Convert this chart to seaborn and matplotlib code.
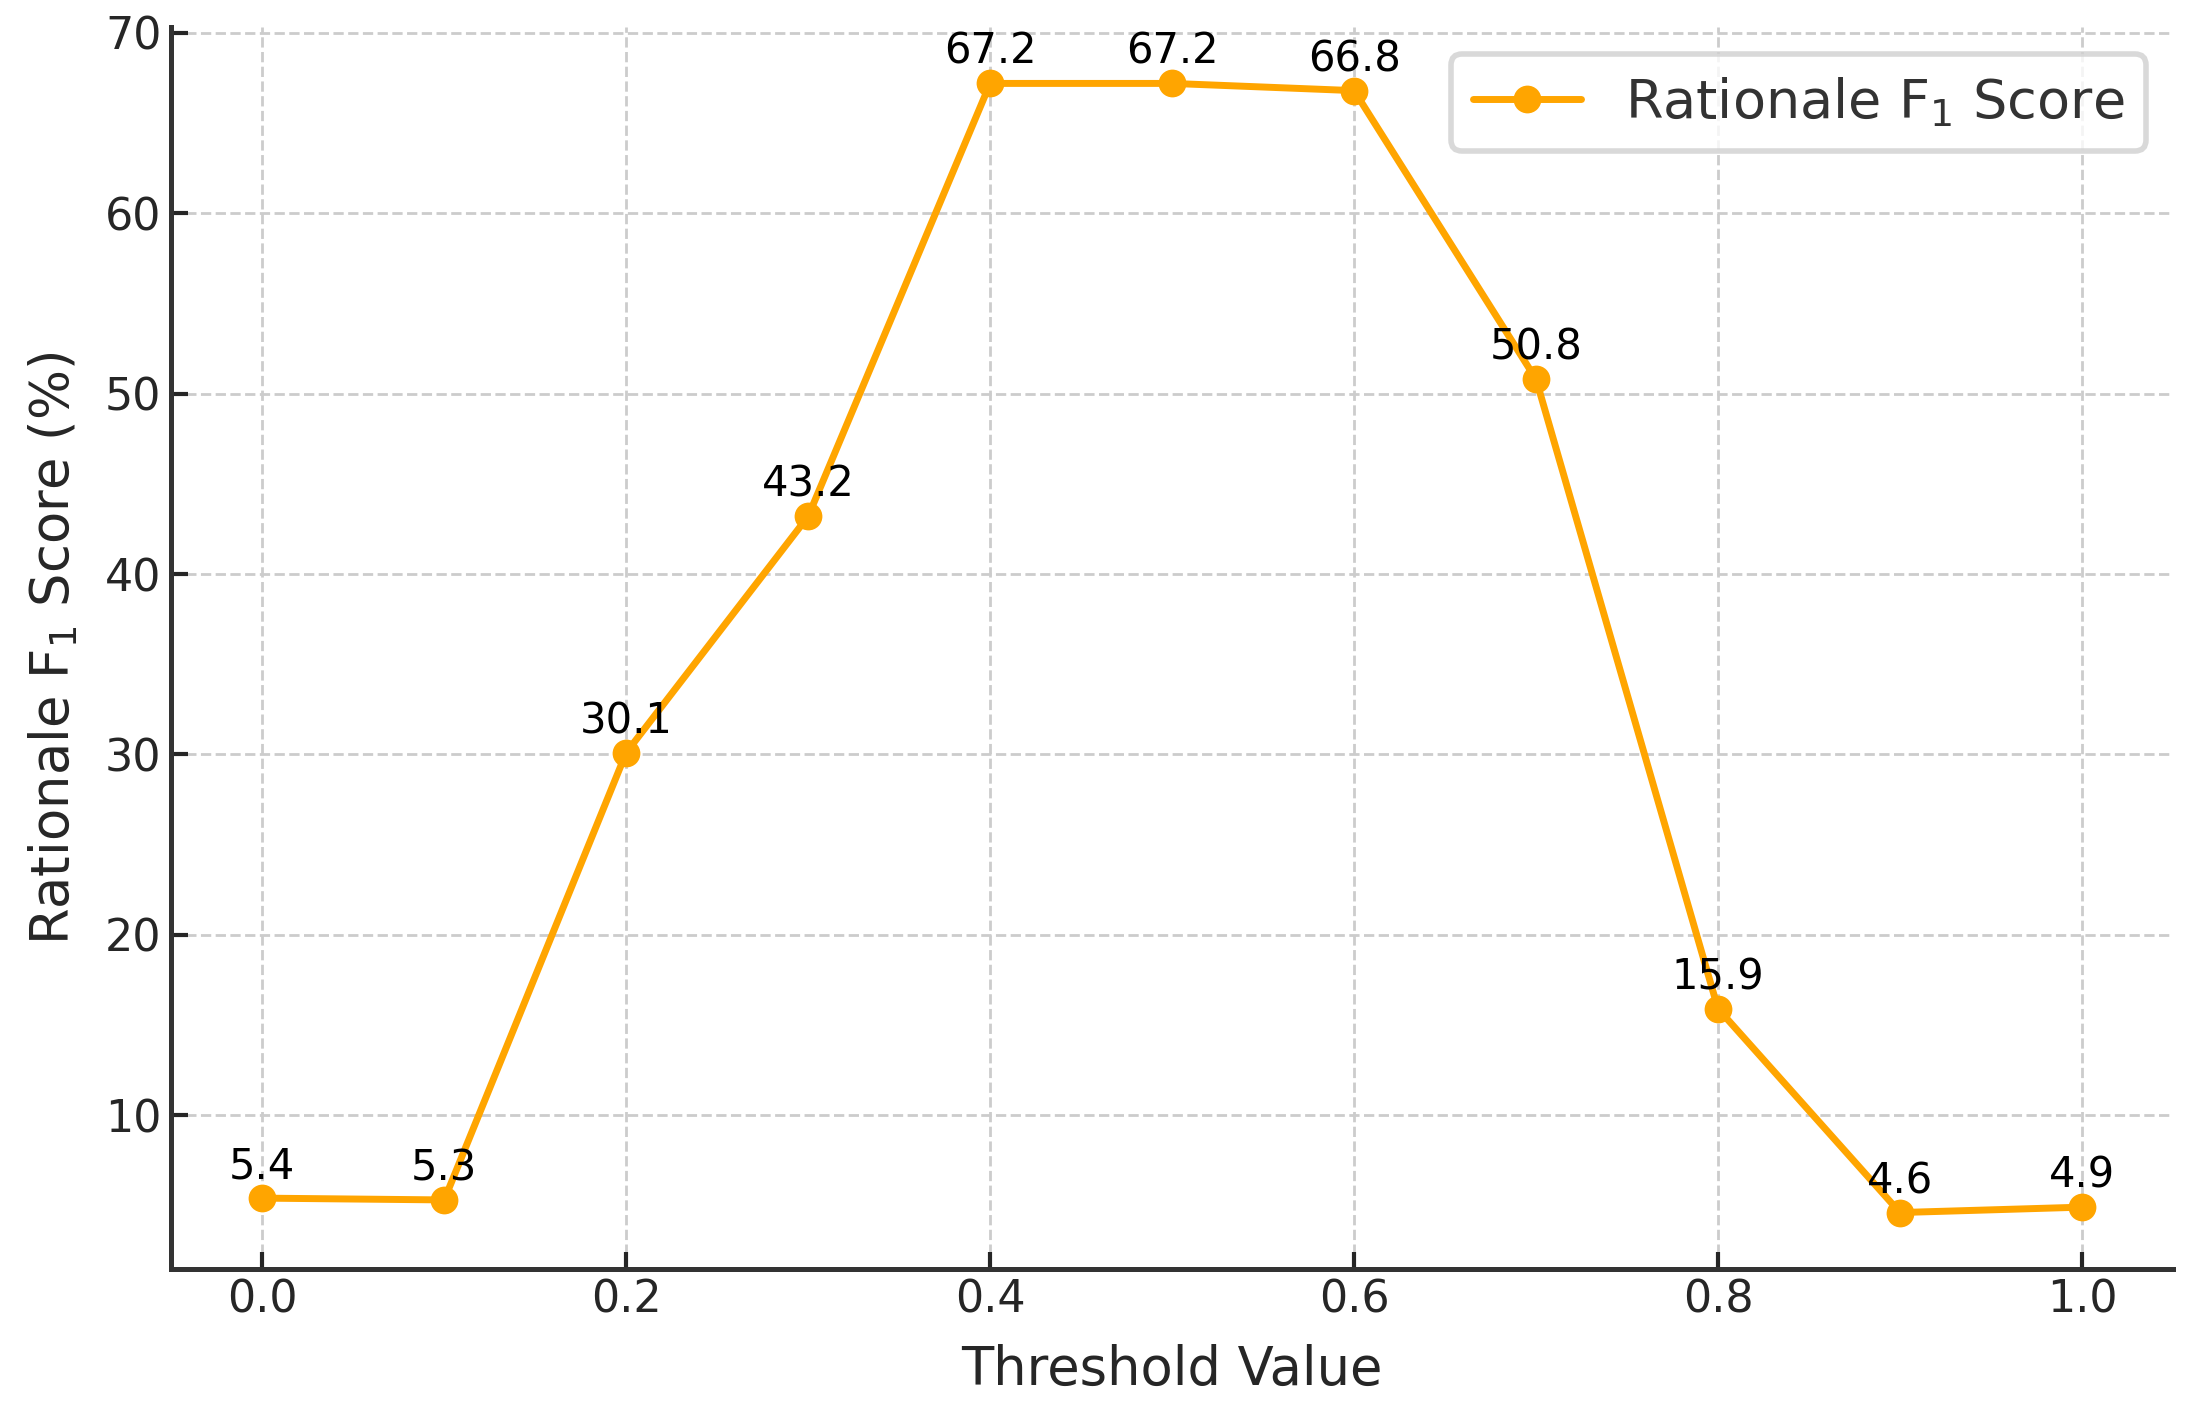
import numpy as np, pandas as pd
import matplotlib
matplotlib.use("Agg")
import matplotlib.pyplot as plt
import seaborn as sns

# data
thresholds = [0.0, 0.1, 0.2, 0.3, 0.4, 0.5, 0.6, 0.7, 0.8, 0.9, 1.0]
f1_scores = [5.4, 5.3, 30.1, 43.2, 67.2, 67.2, 66.8, 50.8, 15.9, 4.6, 4.9]
series_label = "Rationale F$_1$ Score"

df = pd.DataFrame({"threshold": thresholds, "f1": f1_scores})

sns.set_style("whitegrid")
plt.rcParams['font.family'] = ['DejaVu Sans']
plt.rcParams['axes.edgecolor'] = '#333333'
plt.rcParams['xtick.direction'] = 'in'
plt.rcParams['ytick.direction'] = 'in'

fig = plt.figure(figsize=(10.98, 7.095), dpi=200)
ax = fig.add_axes([0.078, 0.1057, 0.9115, 0.8753])

sns.lineplot(data=df, x="threshold", y="f1", ax=ax, color="#FFA500",
             marker="o", markersize=10, markeredgewidth=0, linewidth=2.5,
             label=series_label)

# value labels above each point
for xv, yv in zip(thresholds, f1_scores):
   ax.annotate(f"{yv}", (xv, yv), textcoords="offset points", xytext=(0, 7),
               ha="center", va="baseline", fontsize=15, color="black")

ax.grid(True, linestyle="--", color="#cccccc", linewidth=1.0)
for s in ["top", "right"]:
   ax.spines[s].set_visible(False)
for s in ["left", "bottom"]:
   ax.spines[s].set_linewidth(1.8)
   ax.spines[s].set_color("#333333")

ax.tick_params(axis="both", labelsize=16, colors="#262626", length=6, width=1.5,
               left=True, bottom=True)
ax.set_xlabel("Threshold Value", fontsize=19, color="#262626", labelpad=8)
ax.set_ylabel("Rationale F$_1$ Score (%)", fontsize=19, color="#262626", labelpad=9)
ax.set_xticks([0.0, 0.2, 0.4, 0.6, 0.8, 1.0])
ax.set_yticks([10, 20, 30, 40, 50, 60, 70])

leg = ax.legend(loc="upper right", fontsize=19.5, frameon=True)
leg.get_frame().set_edgecolor("#d0d0d0")
leg.get_frame().set_linewidth(2)
for t in leg.get_texts():
   t.set_color("#333333")

fig.savefig("out.png", dpi=200)
